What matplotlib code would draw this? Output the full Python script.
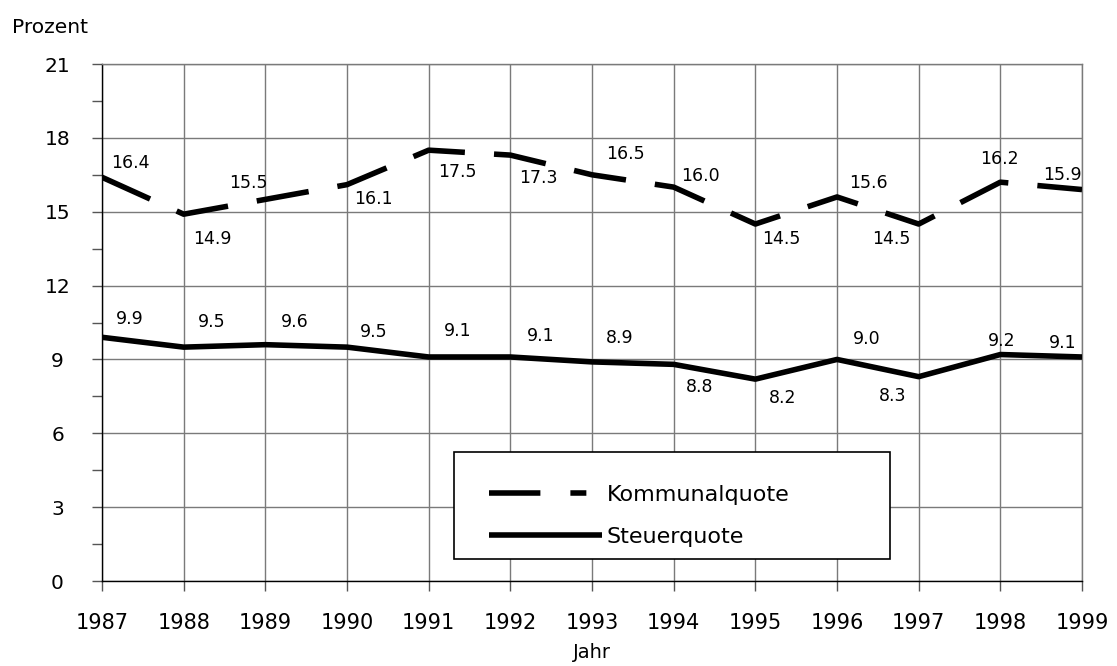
import matplotlib
matplotlib.use("Agg")
import matplotlib.pyplot as plt
from matplotlib.lines import Line2D
from matplotlib.patches import Rectangle
import numpy as np

# data
years = [1987, 1988, 1989, 1990, 1991, 1992, 1993, 1994, 1995, 1996, 1997, 1998, 1999]
kommunalquote = [16.4, 14.9, 15.5, 16.1, 17.5, 17.3, 16.5, 16.0, 14.5, 15.6, 14.5, 16.2, 15.9]
steuerquote = [9.9, 9.5, 9.6, 9.5, 9.1, 9.1, 8.9, 8.8, 8.2, 9.0, 8.3, 9.2, 9.1]
y_ticks = [0, 3, 6, 9, 12, 15, 18, 21]
series_names = ["Kommunalquote", "Steuerquote"]

# label offsets in pixels (dx, dy) relative to each point
k_offsets = [(28, 14), (29, -25), (-17, 16), (26, -14), (29, -22), (28, -23), (33, 21),
             (27, 11), (26, -15), (31, 14), (-27, -15), (-1, 23), (-20, 15)]
s_offsets = [(28, 18), (28, 25), (29, 23), (27, 15), (29, 26), (30, 21), (28, 24),
             (26, -23), (27, -19), (30, 20), (-26, -19), (1, 14), (-19, 14)]

plt.rcParams["font.family"] = ["DejaVu Sans"]
plt.rcParams["lines.scale_dashes"] = False

fig = plt.figure(figsize=(11.17, 6.66), dpi=100)
ax = fig.add_axes([0.0913, 0.1276, 0.8774, 0.7763])

lw = 4
ax.plot(years, kommunalquote, color="black", linewidth=lw, dashes=(38, 21),
        dash_capstyle="butt", zorder=3)
ax.plot(years, steuerquote, color="black", linewidth=lw,
        solid_capstyle="butt", zorder=3)

for x, v, (dx, dy) in zip(years, kommunalquote, k_offsets):
    ax.annotate(f"{v:.1f}", (x, v), xytext=(dx, dy), textcoords="offset pixels",
                ha="center", va="center", fontsize=12.5, annotation_clip=False)
for x, v, (dx, dy) in zip(years, steuerquote, s_offsets):
    ax.annotate(f"{v:.1f}", (x, v), xytext=(dx, dy), textcoords="offset pixels",
                ha="center", va="center", fontsize=12.5, annotation_clip=False)

ax.set_xlim(1987, 1999)
ax.set_ylim(0, 21)
ax.set_xticks(years)
ax.set_xticklabels([str(y) for y in years], fontsize=15)
ax.set_yticks(y_ticks)
ax.set_yticklabels([str(t) for t in y_ticks], fontsize=14.5)
ax.set_yticks(np.arange(1.5, 21, 3), minor=True)
ax.tick_params(axis="both", which="both", direction="out", length=7, width=1, color="#555555")
ax.tick_params(axis="x", pad=16)
ax.tick_params(axis="y", pad=25)
for lab in ax.get_yticklabels():
    lab.set_ha("center")
ax.grid(True, which="major", color="#7a7a7a", linewidth=1)
ax.spines["left"].set_color("black")
ax.spines["bottom"].set_color("black")
ax.spines["top"].set_color("#7a7a7a")
ax.spines["right"].set_color("#7a7a7a")
for sp in ax.spines.values():
    sp.set_linewidth(1)

fig.text(0.53, 0.02, "Jahr", fontsize=14, ha="center", va="center")
fig.text(0.011, 0.958, "Prozent", fontsize=14.5, ha="left", va="center")

# legend frame drawn separately, legend entries placed inside it
frame = Rectangle((0.359, 0.0426), 0.4449, 0.2070, transform=ax.transAxes,
                  facecolor="white", edgecolor="black", linewidth=1.2, zorder=4)
ax.add_patch(frame)
handles = [Line2D([], [], color="black", linewidth=lw, dashes=(37, 21.6, 11.5, 30),
                  dash_capstyle="butt"),
           Line2D([], [], color="black", linewidth=lw, solid_capstyle="butt")]
leg = ax.legend(handles, series_names, loc="center left",
                bbox_to_anchor=(0.395, 0.1257), fontsize=16, handlelength=5.1,
                handletextpad=0.2, frameon=False, borderpad=0, labelspacing=1.0,
                borderaxespad=0)
leg.set_zorder(5)

fig.savefig("out.png", dpi=100)
